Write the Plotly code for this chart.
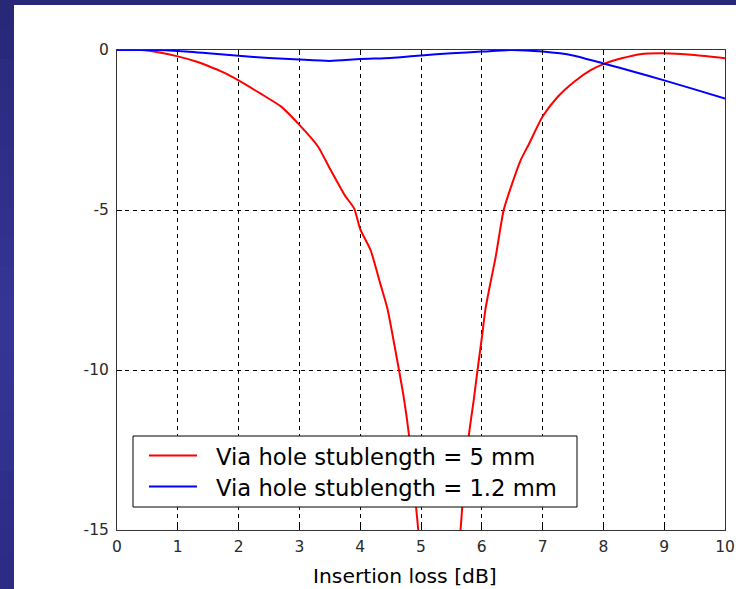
import plotly.graph_objects as go

# ---- data ----
red_x = [0, 0.4, 0.7, 1.0, 1.3, 1.5, 1.75, 2.0, 2.35, 2.7, 3.0, 3.3, 3.5, 3.75, 3.9, 4.0,
         4.17, 4.33, 4.45, 4.58, 4.72, 4.8, 4.9, 4.97,
         None,
         5.64, 5.7, 5.79, 5.87, 5.93, 6.0, 6.06, 6.14, 6.23, 6.36, 6.5, 6.64, 6.78, 7.0,
         7.25, 7.52, 7.79, 8.0, 8.3, 8.6, 9.0, 9.5, 10.0]
red_y = [0, 0, -0.08, -0.2, -0.36, -0.5, -0.7, -0.95, -1.35, -1.77, -2.34, -3.0, -3.7, -4.55, -4.95, -5.6,
         -6.25, -7.3, -8.1, -9.4, -10.9, -12.0, -13.9, -15.3,
         None,
         -15.3, -13.75, -12.0, -10.9, -10.0, -9.0, -8.1, -7.3, -6.45, -5.0, -4.17, -3.44, -2.92, -2.08,
         -1.46, -0.99, -0.63, -0.44, -0.26, -0.13, -0.1, -0.16, -0.26]

blue_x = [0, 0.6, 1.0, 1.5, 2.0, 2.5, 3.0, 3.5, 4.0, 4.5, 5.0, 5.5, 6.0, 6.5, 7.0, 7.5,
          8.0, 8.5, 9.0, 9.5, 10.0]
blue_y = [0, 0, -0.03, -0.1, -0.18, -0.25, -0.3, -0.34, -0.28, -0.25, -0.17, -0.1, -0.05, 0, -0.05, -0.17,
          -0.42, -0.68, -0.95, -1.23, -1.52]

series_names = ["Via hole stublength = 5 mm", "Via hole stublength = 1.2 mm"]
series_colors = ["#ff0000", "#0000ff"]
x_ticks = list(range(0, 11))
y_ticks = [0, -5, -10, -15]
x_title = "Insertion loss [dB]"

# ---- layout geometry (pixels) ----
W, H = 736, 589
L, R, T, B = 117, 11, 50, 59
PW, PH = W - L - R, H - T - B
FONT = "DejaVu Sans"


def px_x(p):
    return (p - L) / PW


def px_y(p):
    return (H - B - p) / PH


fig = go.Figure()
fig.add_trace(go.Scatter(x=red_x, y=red_y, mode="lines", name=series_names[0],
                         line=dict(color=series_colors[0], width=2, shape="spline", smoothing=0.6),
                         connectgaps=False, showlegend=False))
fig.add_trace(go.Scatter(x=blue_x, y=blue_y, mode="lines", name=series_names[1],
                         line=dict(color=series_colors[1], width=2, shape="spline", smoothing=0.6),
                         showlegend=False))

axis_common = dict(
    showline=True, linecolor="#333333", linewidth=1, mirror="ticks",
    ticks="inside", ticklen=5, tickcolor="#000000", tickwidth=1,
    showgrid=True, gridcolor="#000000", gridwidth=1, griddash="4px,4px",
    zeroline=False, automargin=False,
    tickfont=dict(family=FONT, size=15.5, color="#2a2a2a"),
)

fig.update_xaxes(range=[0, 10], tickvals=x_ticks, ticktext=[str(v) for v in x_ticks],
                 ticklabelstandoff=2, **axis_common)
fig.update_yaxes(range=[-15, 0], tickvals=y_ticks, ticktext=[str(v) for v in y_ticks],
                 ticklabelstandoff=4, **axis_common)

# blue slide border (vertical gradient)
shapes = []
n = 20
top_c = (0x28, 0x28, 0x78)
mid_c = (0x36, 0x36, 0x98)
bot_c = (0x2c, 0x2c, 0x84)
for i in range(n):
    t = (i + 0.5) / n
    if t < 0.55:
        f = t / 0.55
        c = tuple(int(top_c[k] + (mid_c[k] - top_c[k]) * f) for k in range(3))
    else:
        f = (t - 0.55) / 0.45
        c = tuple(int(mid_c[k] + (bot_c[k] - mid_c[k]) * f) for k in range(3))
    y0 = H * i / n
    y1 = H * (i + 1) / n + 1
    shapes.append(dict(type="rect", xref="paper", yref="paper", layer="below",
                       x0=px_x(0), x1=px_x(14), y0=px_y(y1), y1=px_y(y0),
                       fillcolor="rgb(%d,%d,%d)" % c, line=dict(width=0)))
shapes.append(dict(type="rect", xref="paper", yref="paper", layer="below",
                   x0=px_x(0), x1=px_x(W), y0=px_y(5), y1=px_y(0),
                   fillcolor="rgb(40,40,120)", line=dict(width=0)))

# legend box (drawn like the MATLAB legend)
shapes.append(dict(type="rect", xref="paper", yref="paper", layer="above",
                   x0=px_x(133), x1=px_x(577), y0=px_y(507), y1=px_y(436),
                   fillcolor="#ffffff", line=dict(color="#000000", width=1)))
annotations = []
legend_rows = [455.5, 486.5]
for name, col, yy in zip(series_names, series_colors, legend_rows):
    shapes.append(dict(type="line", xref="paper", yref="paper", layer="above",
                       x0=px_x(149), x1=px_x(197), y0=px_y(yy), y1=px_y(yy),
                       line=dict(color=col, width=2)))
    annotations.append(dict(text=name, xref="paper", yref="paper",
                            x=px_x(214), y=px_y(yy + 1.5), xanchor="left", yanchor="middle",
                            showarrow=False,
                            font=dict(family=FONT, size=22.7, color="#000000")))

annotations.append(dict(
    text=x_title, xref="paper", yref="paper",
    x=px_x(405), y=px_y(576), xanchor="center", yanchor="middle",
    showarrow=False,
    font=dict(family=FONT, size=20.3, color="#000000"),
))

fig.update_layout(
    width=W, height=H, autosize=False,
    margin=dict(l=L, r=R, t=T, b=B, pad=0, autoexpand=False),
    paper_bgcolor="#ffffff", plot_bgcolor="#ffffff",
    shapes=shapes,
    showlegend=False,
    annotations=annotations,
)

fig.write_html("out.html")
